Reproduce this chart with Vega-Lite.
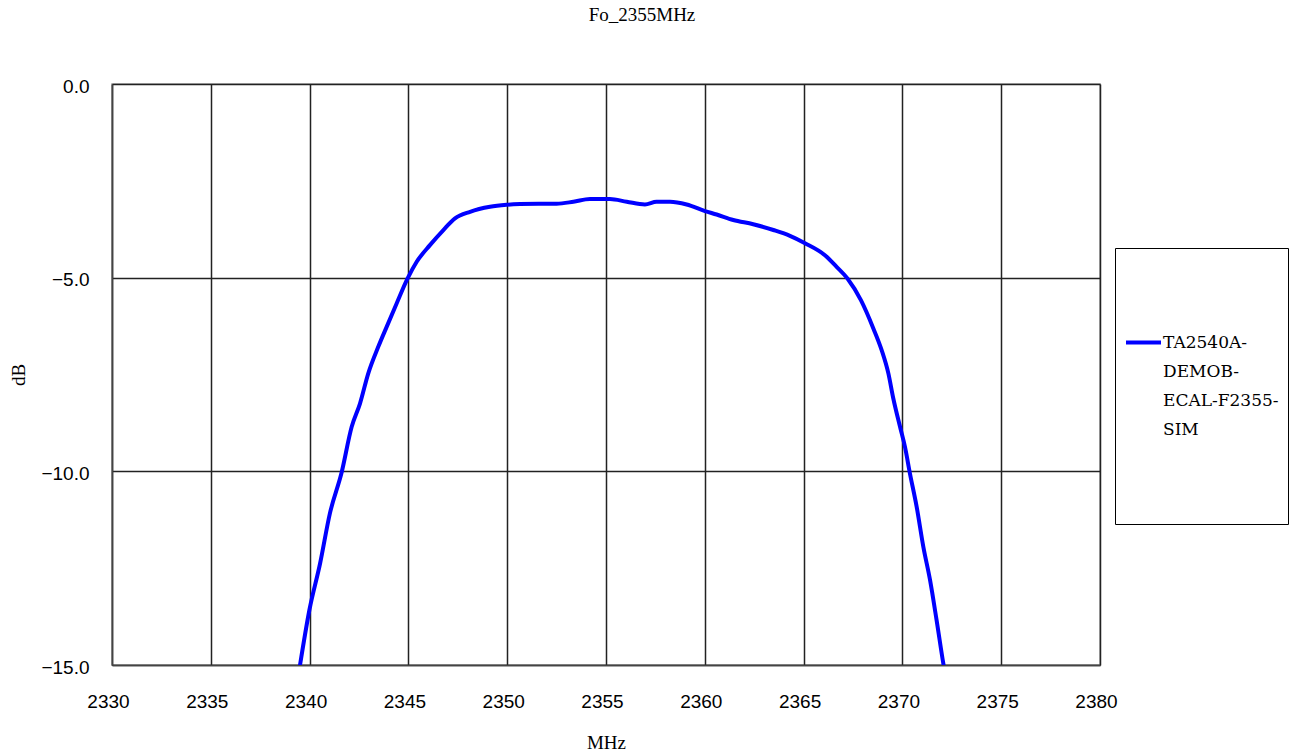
{
  "$schema": "https://vega.github.io/schema/vega-lite/v6.json",
  "autosize": {"type": "none"},
  "width": 988,
  "height": 581,
  "padding": {"left": 112, "top": 84, "right": 197, "bottom": 90},
  "background": "white",
  "title": {
    "text": "Fo_2355MHz",
    "font": "Liberation Serif",
    "fontSize": 19,
    "fontWeight": "normal",
    "color": "#000000",
    "anchor": "middle",
    "frame": "group",
    "dx": 36,
    "offset": 52
  },
  "config": {
    "view": {"stroke": "#a0a0a0", "strokeWidth": 1.5},
    "axis": {
      "labelFont": "Liberation Sans",
      "labelFontSize": 19,
      "labelColor": "#000000",
      "titleFont": "Liberation Serif",
      "titleFontSize": 19,
      "titleFontWeight": "normal",
      "titleColor": "#000000",
      "ticks": false,
      "tickSize": 0,
      "grid": true,
      "gridColor": "#222222",
      "gridWidth": 1.5,
      "gridOpacity": 1,
      "domainColor": "#444444",
      "domainWidth": 1.5
    }
  },
  "data": {
    "values": [
      {"f": 2339.5, "db": -15.05},
      {"f": 2339.99, "db": -13.58},
      {"f": 2340.53, "db": -12.38},
      {"f": 2341.03, "db": -11.08},
      {"f": 2341.62, "db": -10.03},
      {"f": 2342.13, "db": -8.85},
      {"f": 2342.55, "db": -8.25},
      {"f": 2342.97, "db": -7.47},
      {"f": 2343.48, "db": -6.78},
      {"f": 2343.9, "db": -6.27},
      {"f": 2344.41, "db": -5.66},
      {"f": 2344.96, "db": -5.02},
      {"f": 2345.42, "db": -4.59},
      {"f": 2346.09, "db": -4.16},
      {"f": 2346.77, "db": -3.77},
      {"f": 2347.36, "db": -3.47},
      {"f": 2348.12, "db": -3.3},
      {"f": 2349.13, "db": -3.17},
      {"f": 2349.97, "db": -3.12},
      {"f": 2350.65, "db": -3.1},
      {"f": 2351.6, "db": -3.09},
      {"f": 2352.5, "db": -3.09},
      {"f": 2353.35, "db": -3.04},
      {"f": 2354.19, "db": -2.97},
      {"f": 2355.2, "db": -2.97},
      {"f": 2356.05, "db": -3.04},
      {"f": 2356.97, "db": -3.11},
      {"f": 2357.56, "db": -3.04},
      {"f": 2358.24, "db": -3.04},
      {"f": 2359.08, "db": -3.11},
      {"f": 2360.01, "db": -3.28},
      {"f": 2360.6, "db": -3.37},
      {"f": 2361.44, "db": -3.51},
      {"f": 2362.45, "db": -3.62},
      {"f": 2363.47, "db": -3.77},
      {"f": 2364.31, "db": -3.92},
      {"f": 2365.07, "db": -4.11},
      {"f": 2366.08, "db": -4.42},
      {"f": 2366.67, "db": -4.72},
      {"f": 2367.22, "db": -5.02},
      {"f": 2367.9, "db": -5.58},
      {"f": 2368.53, "db": -6.31},
      {"f": 2368.95, "db": -6.87},
      {"f": 2369.29, "db": -7.47},
      {"f": 2369.54, "db": -8.12},
      {"f": 2369.88, "db": -8.85},
      {"f": 2370.13, "db": -9.37},
      {"f": 2370.38, "db": -10.05},
      {"f": 2370.72, "db": -10.91},
      {"f": 2371.06, "db": -11.95},
      {"f": 2371.4, "db": -12.81},
      {"f": 2371.73, "db": -13.84},
      {"f": 2372.07, "db": -14.96},
      {"f": 2372.1, "db": -15.05}
    ]
  },
  "transform": [{"calculate": "'TA2540A-DEMOB-ECAL-F2355-SIM'", "as": "series"}],
  "mark": {"type": "line", "strokeWidth": 4, "clip": true, "interpolate": "monotone"},
  "encoding": {
    "x": {
      "field": "f",
      "type": "quantitative",
      "title": "MHz",
      "scale": {"domain": [2330, 2380], "nice": false, "zero": false},
      "axis": {"values": [2330, 2335, 2340, 2345, 2350, 2355, 2360, 2365, 2370, 2375, 2380], "format": "d", "labelPadding": 27, "labelOffset": -4, "labelFlush": false, "labelBound": false, "labelOverlap": false, "titlePadding": 22}
    },
    "y": {
      "field": "db",
      "type": "quantitative",
      "title": "dB",
      "scale": {"domain": [-15, 0], "nice": false, "zero": false},
      "axis": {"values": [-15, -10, -5, 0], "format": ".1f", "labelPadding": 23, "labelOffset": 2, "labelFlush": false, "labelBound": false, "titlePadding": 12}
    },
    "color": {
      "field": "series",
      "type": "nominal",
      "scale": {"range": ["#0000FF"]},
      "legend": {
        "title": " ",
        "titleFontSize": 20,
        "titlePadding": 46,
        "orient": "none",
        "legendX": 1003,
        "legendY": 164,
        "padding": 9,
        "strokeColor": "#000000",
        "fillColor": "#ffffff",
        "symbolType": "M-1,0H1M1,9.37h0",
        "symbolSize": 1225,
        "symbolStrokeWidth": 4,
        "labelOffset": 0,
        "labelFont": "DejaVu Serif",
        "labelFontSize": 17,
        "labelColor": "#000000",
        "labelLimit": 400,
        "labelExpr": "['TA2540A-', 'DEMOB-', 'ECAL-F2355-', 'SIM']",
        "encode": {"labels": {"update": {"lineHeight": {"value": 29}}}}
      }
    }
  }
}
